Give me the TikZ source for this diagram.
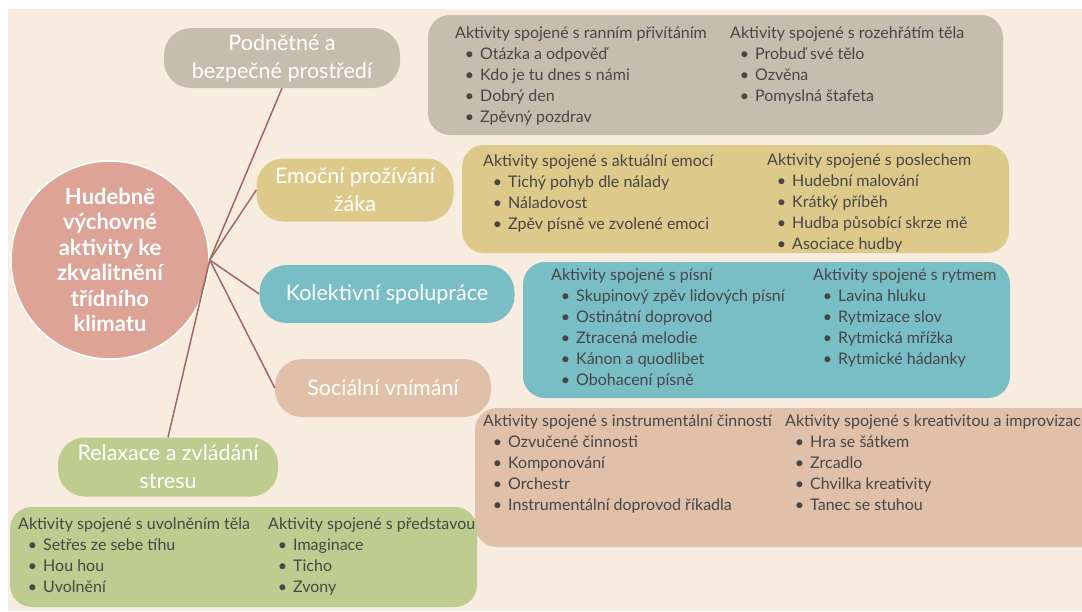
\documentclass[tikz,border=0pt]{standalone}
\usepackage{fontspec}
\setmainfont{Lato}
\usepackage{tikz}
\definecolor{background}{RGB}{248,236,225}
\definecolor{environment}{RGB}{199,189,174}
\definecolor{emotion}{RGB}{221,201,138}
\definecolor{cooperation}{RGB}{121,190,197}
\definecolor{perception}{RGB}{224,192,168}
\definecolor{relaxation}{RGB}{190,205,143}
\definecolor{centre}{RGB}{221,163,150}
\definecolor{branch}{RGB}{163,103,95}
\definecolor{activitytext}{RGB}{70,70,70}
\newcommand{\activity}[1]{\makebox[25pt][r]{\textbullet\hspace{6pt}}#1}

\begin{document}
\begin{tikzpicture}[x=1pt, y=-1pt]
            \tikzstyle{topic} = [rounded corners=27pt, text=white, align=center,
                inner sep=0pt, font=\fontsize{21.5}{28}\selectfont]
            \tikzstyle{list} = [anchor=north west, align=left, inner sep=0pt,
                text=activitytext, font=\fontsize{16}{21}\selectfont]
            \tikzstyle{card} = [rounded corners=22pt]
            \tikzstyle{branchline} = [branch, line width=1.5pt]

            \useasboundingbox (0, 0) rectangle (1082, 611);
            \clip (0, 0) rectangle (1082, 611);
            \fill[white] (0, 0) rectangle (1082, 611);
            \fill[background] (8, 9) rectangle (1082, 611);

            \fill[card, environment] (428, 15) rectangle (1003, 135);
            \fill[card, emotion] (462, 145) rectangle (1009, 253);
            \fill[card, cooperation] (523, 262) rectangle (1010, 398);
            \fill[card, perception] (475, 408) rectangle (1110, 547);
            \fill[card, relaxation] (10, 507) rectangle (477, 607);

            \node[circle, fill=centre, draw=white, line width=1.5pt, minimum size=198pt,
                text=white, align=center, font=\bfseries\fontsize{22}{25.5}\selectfont]
                (hub) at (110, 260) {Hudebně\\výchovné\\aktivity ke\\zkvalitnění\\třídního\\klimatu};

            \node[topic, fill=environment, minimum width=236pt, minimum height=60pt]
                (environmenttopic) at (282, 58) {Podnětné a\\bezpečné prostředí};
            \node[topic, fill=emotion, minimum width=197pt, minimum height=63pt]
                (emotiontopic) at (355, 190) {Emoční prožívání\\žáka};
            \node[topic, fill=cooperation, minimum width=255pt, minimum height=58pt]
                (cooperationtopic) at (387, 294) {Kolektivní spolupráce};
            \node[topic, fill=perception, minimum width=216pt, minimum height=58pt]
                (perceptiontopic) at (383, 388) {Sociální vnímání};
            \node[topic, fill=relaxation, minimum width=220pt, minimum height=59pt]
                (relaxationtopic) at (168, 467) {Relaxace a zvládání\\stresu};

            \draw[branchline] (hub.east) -- (environmenttopic.south);
            \draw[branchline] (hub.east) -- (emotiontopic.west);
            \draw[branchline] (hub.east) -- (cooperationtopic.west);
            \draw[branchline] (hub.east) -- (perceptiontopic.west);
            \draw[branchline] (hub.east) -- (relaxationtopic.north);

            \node[list] (welcome) at (455, 27) {Aktivity spojené s ranním přivítáním\\
                \activity{Otázka a odpověď}\\ \activity{Kdo je tu dnes s námi}\\
                \activity{Dobrý den}\\ \activity{Zpěvný pozdrav}};
            \node[list] (warmup) at (730, 27) {Aktivity spojené s rozehřátím těla\\
                \activity{Probuď své tělo}\\ \activity{Ozvěna}\\
                \activity{Pomyslná štafeta}};

            \node[list] (mood) at (483, 155) {Aktivity spojené s aktuální emocí\\
                \activity{Tichý pohyb dle nálady}\\ \activity{Náladovost}\\
                \activity{Zpěv písně ve zvolené emoci}};
            \node[list] (listening) at (767, 154) {Aktivity spojené s poslechem\\
                \activity{Hudební malování}\\ \activity{Krátký příběh}\\
                \activity{Hudba působící skrze mě}\\ \activity{Asociace hudby}};

            \node[list] (song) at (551, 269) {Aktivity spojené s písní\\
                \activity{Skupinový zpěv lidových písní}\\ \activity{Ostinátní doprovod}\\
                \activity{Ztracená melodie}\\ \activity{Kánon a quodlibet}\\
                \activity{Obohacení písně}};
            \node[list] (rhythm) at (813, 269) {Aktivity spojené s rytmem\\
                \activity{Lavina hluku}\\ \activity{Rytmizace slov}\\
                \activity{Rytmická mřížka}\\ \activity{Rytmické hádanky}};

            \node[list] (instrument) at (483, 415) {Aktivity spojené s instrumentální činností\\
                \activity{Ozvučené činnosti}\\ \activity{Komponování}\\
                \activity{Orchestr}\\ \activity{Instrumentální doprovod říkadla}};
            \node[list] (creativity) at (785, 415) {Aktivity spojené s kreativitou a improvizací\\
                \activity{Hra se šátkem}\\ \activity{Zrcadlo}\\
                \activity{Chvilka kreativity}\\ \activity{Tanec se stuhou}};

            \node[list] (release) at (18, 518) {Aktivity spojené s uvolněním těla\\
                \activity{Setřes ze sebe tíhu}\\ \activity{Hou hou}\\
                \activity{Uvolnění}};
            \node[list] (imagination) at (268, 518) {Aktivity spojené s představou\\
                \activity{Imaginace}\\ \activity{Ticho}\\ \activity{Zvony}};
        \end{tikzpicture}
\end{document}
